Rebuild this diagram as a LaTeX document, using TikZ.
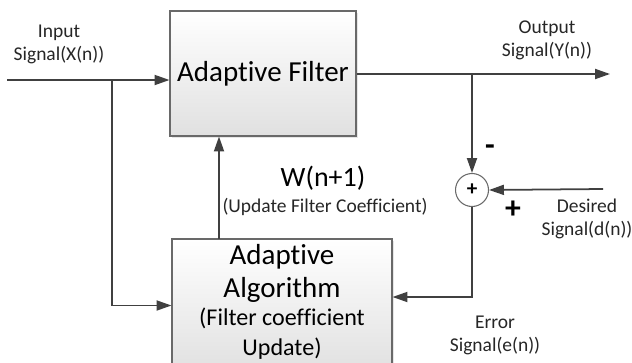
\documentclass[tikz,border=0pt]{standalone}
\usepackage{fontspec}
\setmainfont{Carlito}[Ligatures={NoCommon}]
\usetikzlibrary{arrows.meta, positioning, calc, shadows}
\definecolor{wiregray}{RGB}{64, 64, 64}
\definecolor{edgegray}{RGB}{105, 105, 105}
\tikzset{
  block/.style={draw=edgegray, line width=0.6pt, top color=white, bottom color=black!12,
    drop shadow={shadow xshift=1.2pt, shadow yshift=-1.2pt, opacity=0.2}},
  wire/.style={draw=wiregray, line width=1pt},
  sig/.style={wire, -{Triangle[length=8.5pt, width=5.7pt]}},
  lbl/.style={font=\fontsize{11.1}{13.1}\selectfont, align=center, text=black!85},
}

\begin{document}
\begin{tikzpicture}[x=0.02cm, y=-0.02cm]
  \useasboundingbox (0,0) rectangle (632,362);

  % Blocks
  \node[block, minimum width=3.72cm, minimum height=2.5cm, font=\fontsize{16.5}{20}\selectfont] (filter) at (263,73.5) {Adaptive Filter};
  \node[block, minimum width=4.4cm, minimum height=2.66cm] (algo) at (282,305.5) {};
  \node[align=center, font=\fontsize{16.5}{20}\selectfont, inner sep=0pt] (algotext) at (282,302) {Adaptive\\[-1pt]Algorithm\\[-4pt]{\fontsize{13.7}{16.5}\selectfont (Filter coefficient}\\[-3pt]{\fontsize{13.7}{16.5}\selectfont Update)}};
  \node[circle, draw=edgegray, line width=0.6pt, fill=white, minimum size=0.66cm, inner sep=0pt, font=\fontsize{12}{12}\selectfont\bfseries] (sum) at (472,190) {+};

  % Points on the wires
  \coordinate (xin) at (7,80);
  \coordinate (xsplit) at (112,80);
  \coordinate (yout) at (610,74);
  \coordinate (ysplit) at (472,74);
  \coordinate (din) at (603,189);
  \coordinate (eturn) at (472,297);
  \coordinate (wtap) at (219,239);

  % Wires
  \draw[sig] (xin) -- (xin -| filter.west);
  \draw[sig] (xsplit) |- (algo.west);
  \draw[sig] (filter.east |- yout) -- (yout);
  \draw[sig] (ysplit) -- (sum.north);
  \draw[sig] (din) -- (sum.east);
  \draw[sig] (sum.south) -- (eturn) -- (eturn -| algo.east);
  \draw[sig] (wtap) -- (wtap |- filter.south);

  % Labels
  \node[lbl] (xlbl) at (59,44) {Input\\Signal(X(n))};
  \node[lbl] (ylbl) at (547,40) {Output\\Signal(Y(n))};
  \node[lbl] (dlbl) at (587,219) {Desired\\Signal(d(n))};
  \node[lbl] (elbl) at (495,335) {Error\\Signal(e(n))};
  \node[font=\fontsize{15.9}{18}\selectfont] (wlbl) at (323,178) {W(n+1)};
  \node[lbl] (wnote) at (325,207) {(Update Filter Coefficient)};
  \node[font=\fontsize{18}{18}\selectfont\bfseries] (minus) at (490,150) {-};
  \node[font=\fontsize{18}{18}\selectfont\bfseries] (plus) at (513,210) {+};
\end{tikzpicture}
\end{document}
